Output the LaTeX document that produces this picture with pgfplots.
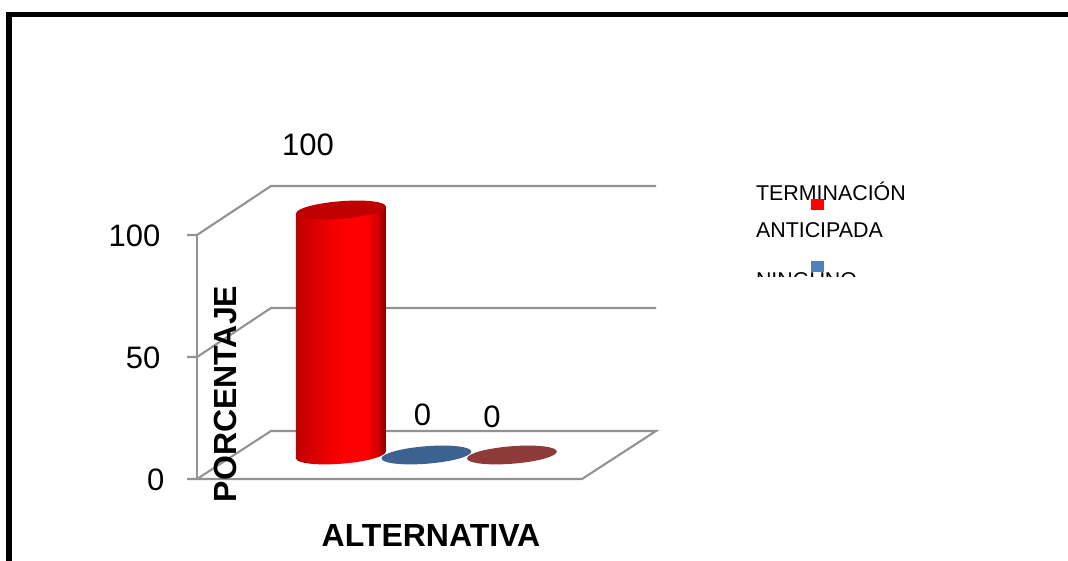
\documentclass[border=0pt]{standalone}
\usepackage{pgfplots}
\pgfplotsset{compat=1.18}
\usepackage{fontspec}
\setmainfont{Liberation Sans}
\usetikzlibrary{shapes.geometric}
\definecolor{gridg}{HTML}{929292}
\definecolor{cyla}{HTML}{BE0000}
\definecolor{cylb}{HTML}{E60000}
\definecolor{cylc}{HTML}{FF0000}
\definecolor{cyld}{HTML}{CC0000}
\definecolor{cyle}{HTML}{7A0000}
\definecolor{cyltop}{HTML}{C00000}
\definecolor{bluee}{HTML}{3C6291}
\definecolor{rede}{HTML}{8E3A3A}
\definecolor{swblue}{HTML}{4F81BD}
\pgfdeclarehorizontalshading{cyl}{100bp}{color(0bp)=(cyla); color(25bp)=(cyla); color(40bp)=(cylb); color(52bp)=(cylc); color(64bp)=(cylc); color(71bp)=(cyld); color(75bp)=(cyle); color(100bp)=(cyle)}
\newcommand{\bigf}{\fontsize{31}{37}\selectfont}
\newcommand{\boldf}{\fontsize{32}{38}\selectfont\bfseries}
\newcommand{\legf}{\fontsize{21.4}{26}\selectfont}
\tikzset{ell/.style={ellipse,draw=none,inner sep=0pt,minimum width=90pt,minimum height=17.5pt,rotate=4.5,anchor=center}}
\pgfplotsset{base/.style={at={(0,0)},anchor=south west,scale only axis,width=1068pt,height=561pt,axis lines=none,ticks=none,clip=true}}
\begin{document}
\begin{tikzpicture}[x=1pt,y=1pt]
\path[use as bounding box] (0,0) rectangle (1068pt,561pt);
% frame, walls, text: axis in pixels of the page
\begin{axis}[base,xmin=0,xmax=1068,ymin=0,ymax=561,y dir=reverse]
\addplot[black,line width=5.6pt,line join=miter] coordinates {(8.8,570)(8.8,14.7)(1075,14.7)};
\addplot[gridg,line width=2.1pt] coordinates {(187,235)(197,235)(271,186)(656,186)};
\addplot[gridg,line width=2.1pt] coordinates {(187,357)(197,357)(271,308)(656,308)};
\addplot[gridg,line width=2.1pt] coordinates {(187,479)(582,479)(656,431)(271,431)(197,479)};
\addplot[gridg,line width=2.1pt] coordinates {(197,235)(197,479)};
\node[anchor=base east,font=\bigf] at (axis cs:164,247) {100};
\node[anchor=base east,font=\bigf] at (axis cs:164,368) {50};
\node[anchor=base east,font=\bigf] at (axis cs:168,490) {0};
\node[anchor=base,font=\boldf,rotate=90] at (axis cs:236,394) {PORCENTAJE};
\node[anchor=base,font=\boldf] at (axis cs:431,546.5) {ALTERNATIVA};
\node[anchor=base west,font=\legf] at (axis cs:752.5,201) {TERMINACIÓN};
\node[anchor=base west,font=\legf] at (axis cs:752.5,238) {ANTICIPADA};
\node[anchor=base west,font=\legf] at (axis cs:752.5,288) {NINGUNO};
\addplot[fill=white,draw=none] coordinates {(750,277.5)(900,277.5)(900,300)(750,300)} -- cycle;
\addplot[fill=red,draw=none] coordinates {(811,199)(824,199)(824,210)(811,210)} -- cycle;
\addplot[fill=swblue,draw=none] coordinates {(811,261)(824,261)(824,272)(811,272)} -- cycle;
\end{axis}
% data: x = category 0,1,2; y = percentage
\begin{axis}[base,xmin=-3.988,xmax=8.503,ymin=-43.27,ymax=185.71,
  /pgf/number format/assume math mode=true]
% cylinder base
\addplot[draw=none,mark=none,nodes near coords={},
  every node near coord/.style={ell,shade,shading=cyl}] coordinates {(0,0)};
% cylinder body, value 100, its ends tilted as the ellipses are
\addplot[draw=none,shade,shading=cyl] coordinates {(-0.526,-1.5)(0.526,1.5)(0.526,101.5)(-0.526,98.5)} -- cycle;
% cylinder top
\addplot[draw=none,mark=none,nodes near coords={},
  every node near coord/.style={ell,fill=cyltop}] coordinates {(0,100)};
% zero-height series
\addplot[draw=none,mark=none,nodes near coords={},
  every node near coord/.style={ell,fill=bluee}] coordinates {(1,0)};
\addplot[draw=none,mark=none,nodes near coords={},
  every node near coord/.style={ell,fill=rede}] coordinates {(2,0)};
% value labels
\addplot[draw=none,mark=none,nodes near coords,
  every node near coord/.style={anchor=center,font=\bigf,xshift=-33pt,yshift=65pt}] coordinates {(0,100)};
\addplot[draw=none,mark=none,nodes near coords,
  every node near coord/.style={anchor=center,font=\bigf,xshift=-4pt,yshift=40pt}] coordinates {(1,0)};
\addplot[draw=none,mark=none,nodes near coords,
  every node near coord/.style={anchor=center,font=\bigf,xshift=-20pt,yshift=38pt}] coordinates {(2,0)};
\end{axis}
\end{tikzpicture}
\end{document}
